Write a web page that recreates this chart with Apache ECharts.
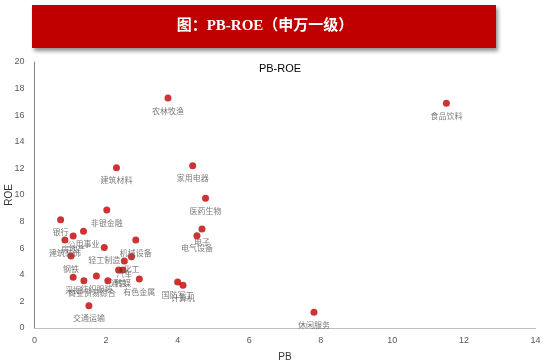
<!DOCTYPE html>
<html><head><meta charset="utf-8">
<script src="https://cdn.jsdelivr.net/npm/echarts@6/dist/echarts.min.js"></script>
<style>html,body{margin:0;padding:0;background:#fff}#c{width:550px;height:361px}</style>
</head><body><div id="c"></div>
<script>
const industries = ['农林牧渔','食品饮料','建筑材料','家用电器','医药生物','非银金融','银行','公用事业','房地产','建筑装饰','钢铁','轻工制造','机械设备','化工','汽车','通信','传媒','有色金属','综合','纺织服装','商业贸易','采掘','交通运输','国防军工','计算机','电子','电气设备','休闲服务'];
const pbValues  = [3.73,11.51,2.29,4.42,4.78,2.02,0.73,1.37,1.08,0.85,1.02,1.95,2.83,2.71,2.51,2.35,2.47,2.93,2.05,1.73,1.38,1.08,1.52,4.00,4.15,4.68,4.54,7.81];
const roeValues = [17.29,16.89,12.05,12.20,9.75,8.87,8.14,7.27,6.92,6.62,5.41,6.05,6.62,5.36,5.04,4.36,4.36,3.68,3.56,3.91,3.56,3.81,1.68,3.46,3.21,7.44,6.94,1.18];
const xTicks = {min:0, max:14, interval:2};
const yTicks = {min:0, max:20, interval:2};

const data = industries.map((n,i)=>({name:n, value:[pbValues[i], roeValues[i]]}));
const chart = echarts.init(document.getElementById('c'));
const axisLabel = {color:'#595959', fontSize:9, fontFamily:'Liberation Sans, Noto Sans CJK SC'};
chart.setOption({
  animation:false,
  graphic:[
    {type:'rect', shape:{x:32,y:5,width:464,height:43}, style:{fill:'#C00000', shadowColor:'rgba(0,0,0,0.45)', shadowBlur:4, shadowOffsetX:2, shadowOffsetY:3}, z:10},
    {type:'text', style:{text:'图：PB-ROE（申万一级）', fill:'#fff', font:'bold 15px "Liberation Serif", "Noto Sans CJK SC"', textAlign:'center', textVerticalAlign:'middle', x:265, y:26}, z:11},
    {type:'text', x:9, y:195, rotation:Math.PI/2, style:{text:'ROE', fill:'#333', font:'10px "Liberation Sans"', textAlign:'center', textVerticalAlign:'middle'}, z:11}
  ],
  title:{text:'PB-ROE', left:275, top:58, textAlign:'center', textStyle:{fontSize:11, fontWeight:'normal', color:'#000', fontFamily:'Liberation Sans, Noto Sans'}},
  grid:{left:34.5, right:14.5, top:62, bottom:33, containLabel:false, outerBoundsMode:'none'},
  xAxis:{type:'value', min:xTicks.min, max:xTicks.max, interval:xTicks.interval, name:'PB', nameLocation:'middle', nameGap:24,
    nameTextStyle:{color:'#333', fontSize:10, fontFamily:'Liberation Sans'},
    axisLine:{show:true, lineStyle:{color:'#BFBFBF'}}, axisTick:{show:false}, splitLine:{show:false}, axisLabel:Object.assign({margin:8}, axisLabel)},
  yAxis:{type:'value', min:yTicks.min, max:yTicks.max, interval:yTicks.interval,
    axisLine:{show:true, lineStyle:{color:'#868686'}}, axisTick:{show:false}, splitLine:{show:false}, axisLabel:Object.assign({margin:10}, axisLabel)},
  series:[{
    type:'scatter', data:data, symbolSize:7,
    itemStyle:{color:'#C00000'},
    label:{show:true, position:'bottom', distance:5, formatter:'{b}', color:'#595959', fontSize:8, fontFamily:'Noto Sans CJK SC'}
  }]
});
</script></body></html>
